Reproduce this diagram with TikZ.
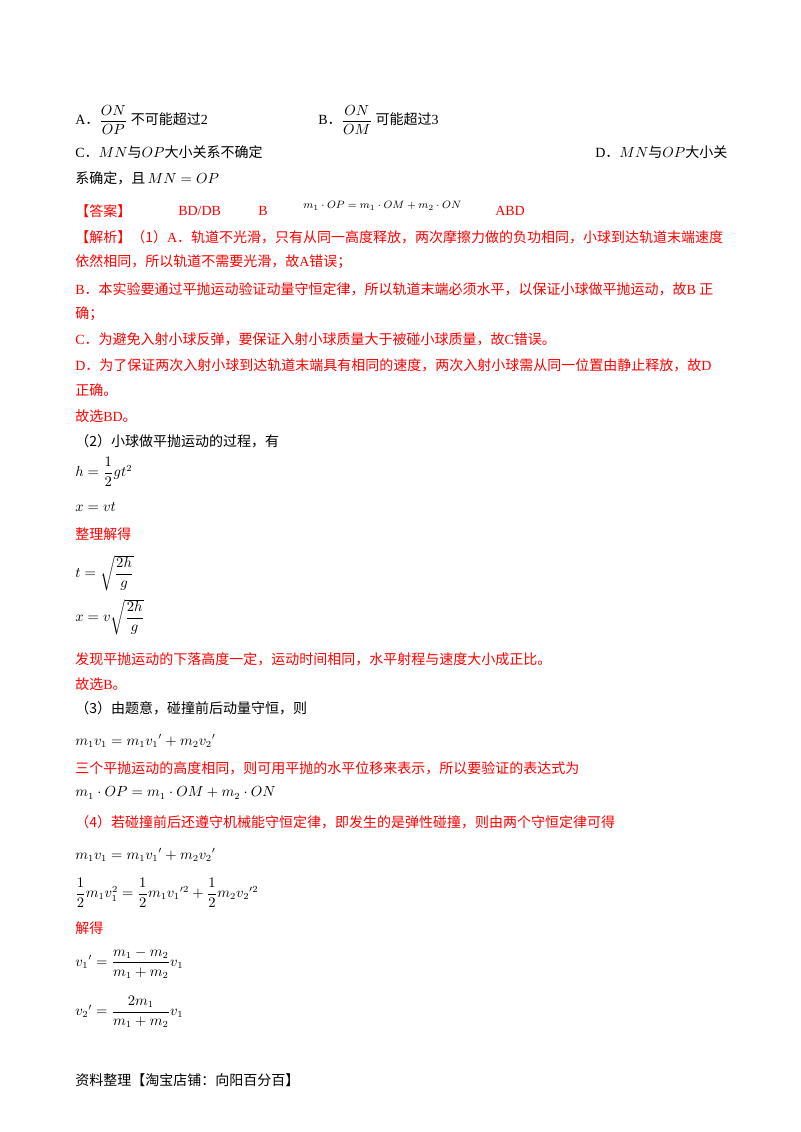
\documentclass[tikz,border=0pt]{standalone}
\usepackage{fontspec}
\setmainfont{Liberation Serif}
\newfontfamily\cjk{Noto Sans CJK SC}
\usepackage{amsmath}
\begin{document}
\begin{tikzpicture}[x=0.75pt,y=-0.75pt,
  t/.style={anchor=west,inner sep=0pt,font=\fontsize{10.5}{12}\selectfont},
  r/.style={t,text=red}]
\useasboundingbox (0,0) rectangle (800,1132);
\fill[white] (0,0) rectangle (800,1132);
\node[t] (a) at (75,120) {A{\cjk ．}$\dfrac{ON}{OP}$ {\cjk 不可能超过}2};
\node[t] (b) at (318,120) {B{\cjk ．}$\dfrac{ON}{OM}$ {\cjk 可能超过}3};
\node[t] (c) at (75,152) {C{\cjk ．}$MN${\cjk 与}$OP${\cjk 大小关系不确定}};
\node[t] (d) at (595,152) {D{\cjk ．}$MN${\cjk 与}$OP${\cjk 大小关}};
\node[t] (d2) at (75,178) {\cjk 系确定，且\,\rmfamily$MN=OP$};
\node[r] (ans) at (75,211) {\cjk 【答案】};
\node[r] (a1) at (178,211) {BD/DB};
\node[r] (a2) at (258,211) {B};
\node[t,font=\fontsize{8.5}{10}\selectfont] (a3) at (303,206) {$m_1\cdot OP=m_1\cdot OM+m_2\cdot ON$};
\node[r] (a4) at (495,211) {ABD};
\node[r] (l1) at (75,237) {{\cjk 【解析】（1）}A{\cjk ．轨道不光滑，只有从同一高度释放，两次摩擦力做的负功相同，小球到达轨道末端速度}};
\node[r] (l2) at (75,262) {{\cjk 依然相同，所以轨道不需要光滑，故}A{\cjk 错误；}};
\node[r] (l3) at (75,289) {B{\cjk ．本实验要通过平抛运动验证动量守恒定律，所以轨道末端必须水平，以保证小球做平抛运动，故}B {\cjk 正}};
\node[r] (l4) at (75,314) {\cjk 确；};
\node[r] (l5) at (75,339) {C{\cjk ．为避免入射小球反弹，要保证入射小球质量大于被碰小球质量，故}C{\cjk 错误。}};
\node[r] (l6) at (75,365) {D{\cjk ．为了保证两次入射小球到达轨道末端具有相同的速度，两次入射小球需从同一位置由静止释放，故}D};
\node[r] (l7) at (75,390) {\cjk 正确。};
\node[r] (l8) at (75,416) {{\cjk 故选}BD{\cjk 。}};
\node[t] (l9) at (75,441) {\cjk （2）小球做平抛运动的过程，有};
\node[t] (e1) at (75,472) {$h=\dfrac12 gt^2$};
\node[t] (e2) at (75,507) {$x=vt$};
\node[r] (l10) at (75,534) {\cjk 整理解得};
\node[t] (e3) at (75,573) {$t=\sqrt{\dfrac{2h}{g}}$};
\node[t] (e4) at (75,617) {$x=v\sqrt{\dfrac{2h}{g}}$};
\node[r] (l11) at (75,659) {\cjk 发现平抛运动的下落高度一定，运动时间相同，水平射程与速度大小成正比。};
\node[r] (l12) at (75,684) {{\cjk 故选}B{\cjk 。}};
\node[t] (l13) at (75,708) {\cjk （3）由题意，碰撞前后动量守恒，则};
\node[t] (e5) at (75,741) {$m_1v_1=m_1{v_1}'+m_2{v_2}'$};
\node[r] (l14) at (75,768) {\cjk 三个平抛运动的高度相同，则可用平抛的水平位移来表示，所以要验证的表达式为};
\node[t] (e6) at (75,793) {$m_1\cdot OP=m_1\cdot OM+m_2\cdot ON$};
\node[r] (l15) at (75,822) {\cjk （4）若碰撞前后还遵守机械能守恒定律，即发生的是弹性碰撞，则由两个守恒定律可得};
\node[t] (e7) at (75,855) {$m_1v_1=m_1{v_1}'+m_2{v_2}'$};
\node[t] (e8) at (75,893) {$\dfrac12m_1v_1^2=\dfrac12m_1{v_1}'^2+\dfrac12m_2{v_2}'^2$};
\node[r] (l16) at (75,928) {\cjk 解得};
\node[t] (e9) at (75,963) {${v_1}'=\dfrac{m_1-m_2}{m_1+m_2}v_1$};
\node[t] (e10) at (75,1012) {${v_2}'=\dfrac{2m_1}{m_1+m_2}v_1$};
\node[t] (f) at (75,1080) {\cjk 资料整理【淘宝店铺：向阳百分百】};
\end{tikzpicture}
\end{document}
